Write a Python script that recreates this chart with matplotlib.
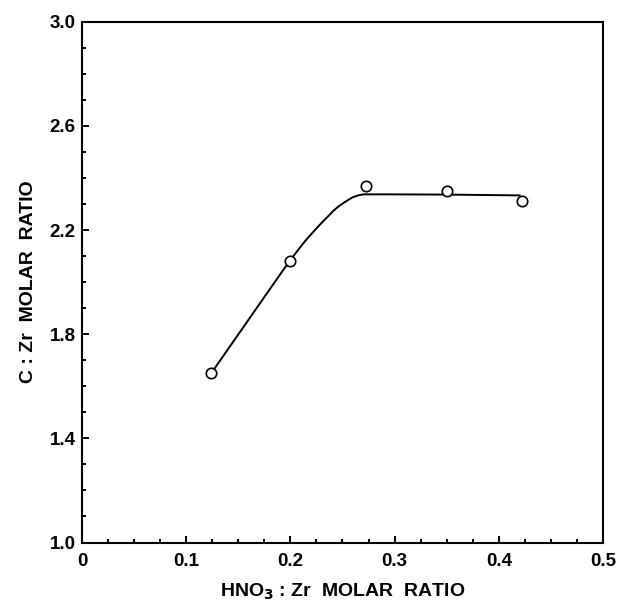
import numpy as np
import matplotlib
matplotlib.use("Agg")
import matplotlib.pyplot as plt
from matplotlib.ticker import MultipleLocator, FixedLocator

# -----------------------------
# Data
# -----------------------------
hno3_zr = [0.124, 0.200, 0.273, 0.350, 0.422]
c_zr = [1.65, 2.08, 2.37, 2.35, 2.31]

# hand-drawn guide curve through the points
curve_x = [0.124, 0.193, 0.205, 0.212, 0.217, 0.222, 0.227, 0.232, 0.237, 0.241,
           0.246, 0.251, 0.256, 0.260, 0.265, 0.270, 0.296, 0.350, 0.420]
curve_y = [1.650, 2.046, 2.111, 2.147, 2.171, 2.193, 2.215, 2.236, 2.256, 2.273,
           2.290, 2.304, 2.317, 2.326, 2.333, 2.337, 2.337, 2.336, 2.333]

x_ticks = [0, 0.1, 0.2, 0.3, 0.4, 0.5]
x_labels = ['0', '0.1', '0.2', '0.3', '0.4', '0.5']
y_ticks = [1.0, 1.4, 1.8, 2.2, 2.6, 3.0]
y_labels = ['1.0', '1.4', '1.8', '2.2', '2.6', '3.0']

plt.rcParams['font.family'] = ['Liberation Sans', 'DejaVu Sans']
plt.rcParams['font.weight'] = 'bold'

fig = plt.figure(figsize=(6.18, 6.01), dpi=100)
ax = fig.add_axes([0.1327, 0.0973, 0.843, 0.8666])

ax.plot(curve_x, curve_y, color='black', lw=1.4, zorder=2)
ax.plot(hno3_zr, c_zr, 'o', ms=7.5, mfc='white', mec='black', mew=1.2, zorder=3)

ax.set_xlim(0, 0.5)
ax.set_ylim(1.0, 3.0)
ax.set_xticks(x_ticks)
ax.set_xticklabels(x_labels)
ax.set_yticks(y_ticks)
ax.set_yticklabels(y_labels)
ax.xaxis.set_minor_locator(MultipleLocator(0.025))
ax.yaxis.set_minor_locator(FixedLocator(np.arange(1.1, 3.0, 0.1)))

ax.tick_params(which='both', direction='in', top=False, right=False, width=1.4)
ax.tick_params(which='major', length=5, labelsize=13.5)
ax.tick_params(axis='x', which='major', pad=7.5)
ax.tick_params(axis='y', which='major', pad=4.5)
ax.tick_params(which='minor', length=3)
for s in ax.spines.values():
    s.set_linewidth(1.5)

ax.set_xlabel(r'HNO$_\mathbf{3}$ : Zr  MOLAR  RATIO', fontsize=14, fontweight='bold', labelpad=8.5)
ax.set_ylabel('C : Zr  MOLAR  RATIO', fontsize=14, fontweight='bold', labelpad=9)

fig.savefig('out.png', dpi=100)
